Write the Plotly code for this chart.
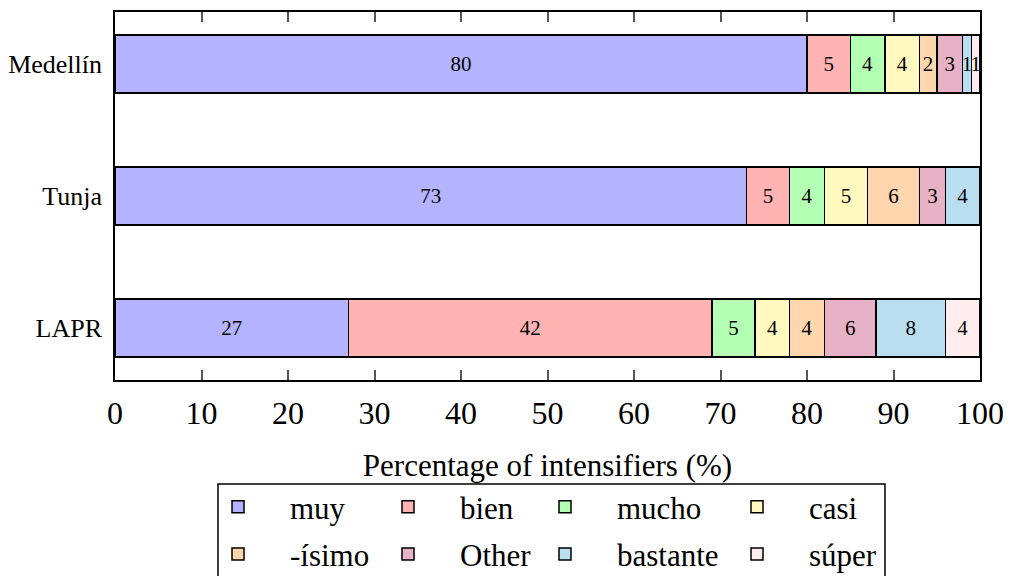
import plotly.graph_objects as go

cities = ["LAPR", "Tunja", "Medellín"]
series = ["muy", "bien", "mucho", "casi", "-ísimo", "Other", "bastante", "súper"]
muy = [27, 73, 80]
bien = [42, 5, 5]
mucho = [5, 4, 4]
casi = [4, 5, 4]
isimo = [4, 6, 2]
other = [6, 3, 3]
bastante = [8, 4, 1]
super_ = [4, 0, 1]
values = [muy, bien, mucho, casi, isimo, other, bastante, super_]
colors = ["#b3b3ff", "#ffb3b3", "#b3ffb3", "#fff8bf", "#ffd6ad", "#e8b2c6", "#b8def0", "#ffeded"]
xticks = [0, 10, 20, 30, 40, 50, 60, 70, 80, 90, 100]

SERIF = "Liberation Serif"
W, H = 1003, 568  # page body has an 8px margin

legend_ids = ["legend", "legend2", "legend3", "legend4"]

fig = go.Figure()
for i, (name, vals, col) in enumerate(zip(series, values, colors)):
    fig.add_trace(go.Bar(
        y=cities, x=vals, name=name, orientation="h",
        marker=dict(color=col, line=dict(color="black", width=1.5)),
        text=[str(v) if v > 0 else "" for v in vals],
        textposition="inside", insidetextanchor="middle", textangle=0,
        textfont=dict(family=SERIF, size=21, color="black"),
        width=0.44,
        legend=legend_ids[i % 4],
        legendgroup=name,
    ))

def leg(xpix):
    return dict(
        orientation="v", xref="container", yref="container",
        x=xpix / W, xanchor="left", y=1 - 472 / H, yanchor="top",
        font=dict(family=SERIF, size=31, color="black"),
        bgcolor="rgba(0,0,0,0)", borderwidth=0,
        itemwidth=94, tracegroupgap=4,
        traceorder="grouped",
    )

fig.update_layout(
    barmode="stack",
    width=W, height=H,
    margin=dict(l=107, r=31, t=4, b=196, autoexpand=False),
    plot_bgcolor="white", paper_bgcolor="white",
    font=dict(family=SERIF, color="black"),
    showlegend=True,
    uniformtext=dict(minsize=21, mode="show"),
    legend=leg(178), legend2=leg(348), legend3=leg(505), legend4=leg(697),
    xaxis=dict(
        range=[0, 100], tickvals=xticks, automargin=False,
        ticks="inside", ticklen=10, tickwidth=1.5, tickcolor="#555",
        showline=True, linecolor="black", linewidth=1.5, mirror="ticks",
        showgrid=False, zeroline=False, ticklabelstandoff=4,
        tickfont=dict(family=SERIF, size=32, color="black"),
        title=dict(text="Percentage of intensifiers (%)", standoff=24,
                   font=dict(family=SERIF, size=31, color="black")),
    ),
    yaxis=dict(
        range=[-0.394, 2.394], automargin=False,
        showline=True, linecolor="black", linewidth=1.5, mirror=True,
        ticks="", showgrid=False, zeroline=False, ticklabelstandoff=6,
        tickfont=dict(family=SERIF, size=26, color="black"),
    ),
    shapes=[dict(
        type="rect", xref="paper", yref="paper",
        x0=(210 - 107) / 865, x1=(877 - 107) / 865,
        y0=(372 - 476) / 368, y1=(372 - 590) / 368,
        line=dict(color="black", width=1.5), fillcolor="rgba(0,0,0,0)",
    )],
)

fig.write_html("out.html")
